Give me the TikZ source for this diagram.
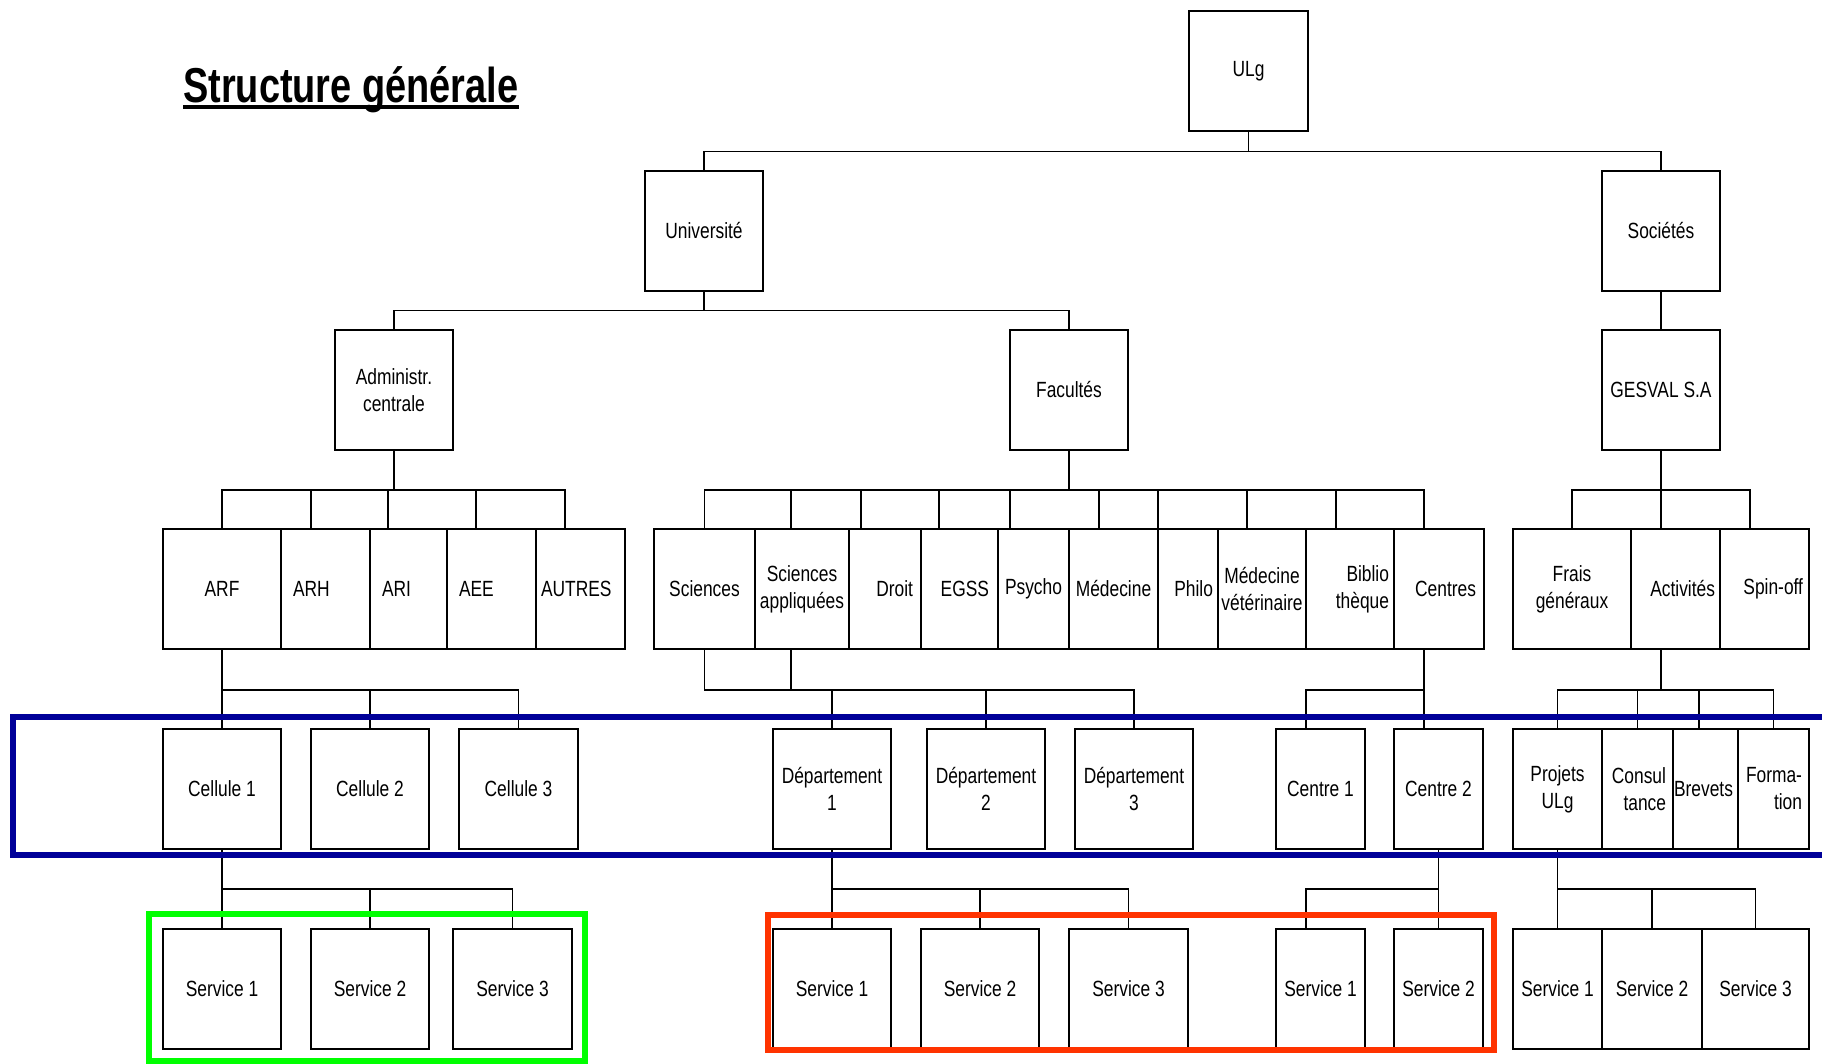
\documentclass[tikz,border=0pt]{standalone}
\usepackage{fontspec}
\setmainfont{Liberation Sans}[FakeStretch=0.79]
\newfontfamily\titlefont{Liberation Sans}[FakeStretch=0.774]
\usepackage{tikz}
\usetikzlibrary{calc}
\definecolor{framenavy}{RGB}{0,0,153}
\definecolor{framegreen}{RGB}{0,255,0}
\definecolor{framered}{RGB}{255,51,0}
\tikzset{
	unitbox/.style={draw=black, line width=1.5pt, inner sep=0pt, minimum height=120pt,
		minimum width=#1, align=center, font=\fontsize{22}{27}\selectfont},
	unitboxl/.style 2 args={unitbox=#1, text width=#2, align=left},
	unitboxr/.style 2 args={unitbox=#1, text width=#2, align=right},
	link/.style={draw=black, line width=1.6pt},
	toplink/.style={draw=black, line width=1.1pt},
	frame/.style={line width=6pt},
	% frame/.style={line width=5pt},
}

\begin{document}
\begin{tikzpicture}[x=1pt,y=-1pt]
\path[use as bounding box, fill=white] (0,0) rectangle (1822,1064);

\node[anchor=base west, inner sep=0pt, font=\titlefont\bfseries\fontsize{49}{55}\selectfont] (title) at (183,103) {Structure générale};
\draw[line width=4pt] ([yshift=-4pt]title.base west) -- ([yshift=-4pt]title.base east);

% top levels
\node[unitbox=119pt] (ulg) at (1248.5,71) {ULg};
\node[unitbox=118pt] (univ) at (704,231) {Université};
\node[unitbox=118pt] (soc) at (1661,231) {Sociétés};
\node[unitbox=118pt] (adm) at (394,390) {Administr.\\centrale};
\node[unitbox=118pt] (fac) at (1069,390) {Facultés};
\node[unitbox=118pt] (gesval) at (1661,390) {GESVAL S.A};

% row 3
\node[unitbox=118pt] (arf) at (222,589) {ARF};
\node[unitboxl={89pt}{65pt}] (arh) at (325.5,589) {ARH};
\node[unitboxl={77pt}{53pt}] (ari) at (408.5,589) {ARI};
\node[unitboxl={89pt}{65pt}] (aee) at (491.5,589) {AEE};
\node[unitboxl={89pt}{79pt}] (autres) at (580.5,589) {AUTRES};
\node[unitbox=101pt] (sci) at (704.5,589) {Sciences};
\node[unitbox=94pt] (sciapp) at (802,589) {Sciences\\appliquées};
\node[unitboxr={72pt}{56pt}] (droit) at (885,589) {Droit};
\node[unitboxr={77pt}{59pt}] (egss) at (959.5,589) {EGSS};
\node[unitbox=71pt] (psycho) at (1033.5,589) {Psycho};
\node[unitbox=89pt] (med) at (1113.5,589) {Médecine};
\node[unitboxr={60pt}{50pt}] (philo) at (1188,589) {Philo};
\node[unitbox=88pt] (medvet) at (1262,589) {Médecine\\vétérinaire};
\node[unitboxr={88pt}{78pt}] (biblio) at (1350,589) {Biblio\\thèque};
\node[unitboxr={90pt}{74pt}] (centres) at (1439,589) {Centres};
\node[unitbox=118pt] (frais) at (1572,589) {Frais\\généraux};
\node[unitboxr={89pt}{79pt}] (activ) at (1675.5,589) {Activités};
\node[unitboxr={89pt}{77pt}] (spin) at (1764.5,589) {Spin-off};

% row 4
\node[unitbox=118pt] (cel1) at (222,789) {Cellule 1};
\node[unitbox=118pt] (cel2) at (370,789) {Cellule 2};
\node[unitbox=119pt] (cel3) at (518.5,789) {Cellule 3};
\node[unitbox=118pt] (dep1) at (832,789) {Département\\1};
\node[unitbox=118pt] (dep2) at (986,789) {Département\\2};
\node[unitbox=118pt] (dep3) at (1134,789) {Département\\3};
\node[unitbox=89pt] (ctr1) at (1320.5,789) {Centre 1};
\node[unitbox=89pt] (ctr2) at (1438.5,789) {Centre 2};
\node[unitbox=89pt] (projets) at (1557.5,789) {Projets\\ULg};
\node[unitboxr={71pt}{57pt}] (consul) at (1637.5,789) {Consul\\tance};
\node[unitboxl={65pt}{63pt}] (brevets) at (1705.5,789) {Brevets};
\node[unitboxr={71pt}{57pt}] (forma) at (1773.5,789) {Forma-\\tion};

% row 5
\node[unitbox=118pt] (srva1) at (222,989) {Service 1};
\node[unitbox=118pt] (srva2) at (370,989) {Service 2};
\node[unitbox=119pt] (srva3) at (512.5,989) {Service 3};
\node[unitbox=118pt] (srvf1) at (832,989) {Service 1};
\node[unitbox=118pt] (srvf2) at (980,989) {Service 2};
\node[unitbox=119pt] (srvf3) at (1128.5,989) {Service 3};
\node[unitbox=89pt] (srvc1) at (1320.5,989) {Service 1};
\node[unitbox=89pt] (srvc2) at (1438.5,989) {Service 2};
\node[unitbox=89pt] (srvg1) at (1557.5,989) {Service 1};
\node[unitbox=100pt] (srvg2) at (1652,989) {Service 2};
\node[unitbox=107pt] (srvg3) at (1755.5,989) {Service 3};

% connectors
\draw[toplink] (ulg.south) -- ++(0,20) -| (univ.north) (ulg.south) ++(0,20) -| (soc.north);
\draw[toplink] (univ.south) -- ++(0,19) -| (adm.north) (univ.south) ++(0,19) -| (fac.north);
\draw[toplink] (soc.south) -- (gesval.north);

\draw[link] (adm.south) -- ++(0,39) -| (arf.north) (adm.south) ++(0,39) -| ([xshift=-14.5pt]arh.north)
	(adm.south) ++(0,39) -| ([xshift=-20.5pt]ari.north) (adm.south) ++(0,39) -| ([xshift=-15.5pt]aee.north)
	(adm.south) ++(0,39) -| ([xshift=-15.5pt]autres.north);
\draw[link] (fac.south) -- ++(0,39) -| (sci.north) (fac.south) ++(0,39) -| ([xshift=-11pt]sciapp.north)
	(fac.south) ++(0,39) -| ([xshift=-24pt]droit.north) (fac.south) ++(0,39) -| ([xshift=-20.5pt]egss.north)
	(fac.south) ++(0,39) -| ([xshift=-23.5pt]psycho.north) (fac.south) ++(0,39) -| ([xshift=-14.5pt]med.north)
	(fac.south) ++(0,39) -| ([xshift=-30pt]philo.north) (fac.south) ++(0,39) -| ([xshift=-15pt]medvet.north)
	(fac.south) ++(0,39) -| ([xshift=-14pt]biblio.north) (fac.south) ++(0,39) -| ([xshift=-15pt]centres.north);
\draw[link] (gesval.south) -- ++(0,39) -| (frais.north) (gesval.south) ++(0,39) -| ([xshift=-14.5pt]activ.north)
	(gesval.south) ++(0,39) -| ([xshift=-14.5pt]spin.north);

\draw[link] (arf.south) -- ++(0,40) -| (cel1.north) (arf.south) ++(0,40) -| (cel2.north)
	(arf.south) ++(0,40) -| (cel3.north);
\draw[link] (sci.south) -- ++(0,40) -| (dep1.north) (sci.south) ++(0,40) -| (dep2.north)
	(sci.south) ++(0,40) -| (dep3.north);
\draw[link] ([xshift=-11pt]sciapp.south) -- ++(0,40);
\draw[link] ([xshift=-15pt]centres.south) -- ++(0,40) -| ([xshift=-14.5pt]ctr1.north)
	([xshift=-15pt]centres.south) ++(0,40) -| ([xshift=-14.5pt]ctr2.north);
\draw[link] ([xshift=-14.5pt]activ.south) -- ++(0,40) -| (projets.north)
	([xshift=-14.5pt]activ.south) ++(0,40) -| (consul.north)
	([xshift=-14.5pt]activ.south) ++(0,40) -| ([xshift=-6.5pt]brevets.north)
	([xshift=-14.5pt]activ.south) ++(0,40) -| (forma.north);

\draw[link] (cel1.south) -- ++(0,39) -| (srva1.north) (cel1.south) ++(0,39) -| (srva2.north)
	(cel1.south) ++(0,39) -| (srva3.north);
\draw[link] (dep1.south) -- ++(0,39) -| (srvf1.north) (dep1.south) ++(0,39) -| (srvf2.north)
	(dep1.south) ++(0,39) -| (srvf3.north);
\draw[link] (ctr2.south) -- ++(0,39) -| ([xshift=-14.5pt]srvc1.north) (ctr2.south) ++(0,39) -| (srvc2.north);
\draw[link] (projets.south) -- ++(0,39) -| (srvg1.north) (projets.south) ++(0,39) -| (srvg2.north)
	(projets.south) ++(0,39) -| (srvg3.north);

% frames
\draw[frame, framenavy] (13,717) rectangle (1840,854.5);
\draw[frame, framegreen] (148.5,914) rectangle (584.5,1061);
\draw[frame, framered] (768,914.5) rectangle (1494,1050);

\end{tikzpicture}
\end{document}
